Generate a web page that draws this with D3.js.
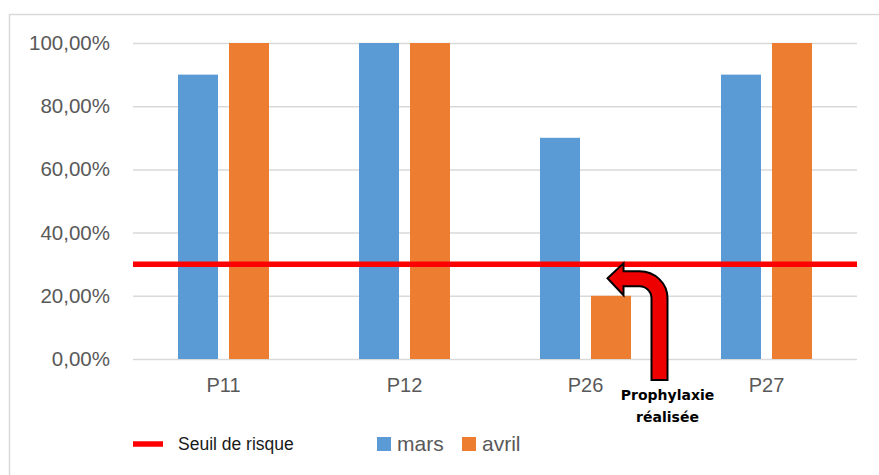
<!DOCTYPE html>
<html>
<head>
<meta charset="utf-8">
<script src="https://cdn.jsdelivr.net/npm/d3@7"></script>
<style>
  html, body { margin: 0; padding: 0; background: #fff; }
  svg { display: block; font-family: "Liberation Sans", Arial, sans-serif; }
</style>
</head>
<body>
<div id="chart"></div>
<script>
// données
var categories = ["P11", "P12", "P26", "P27"];
var seriesNames = ["mars", "avril"];
var mars = [0.90, 1.00, 0.70, 0.90];
var avril = [1.00, 1.00, 0.20, 1.00];
var yTicks = [0, 0.2, 0.4, 0.6, 0.8, 1.0];
var seuil = 0.30;
var seuilLabel = "Seuil de risque";
var annotationLines = ["Prophylaxie", "réalisée"];

var colors = { mars: "#5b9bd5", avril: "#ed7d31" };

var width = 879, height = 475;
var margin = { left: 133, right: 22, top: 43, bottom: 116 };

var svg = d3.select("#chart").append("svg")
    .attr("width", width)
    .attr("height", height);

// cadre du graphique (bords droit/bas hors de l'image)
svg.append("rect")
    .attr("x", 9.5).attr("y", 14.5)
    .attr("width", 1000).attr("height", 1000)
    .attr("fill", "none")
    .attr("stroke", "#d9d9d9")
    .attr("stroke-width", 1.5);

var x = d3.scaleBand()
    .domain(categories)
    .range([margin.left, width - margin.right]);

var y = d3.scaleLinear()
    .domain([0, 1])
    .range([height - margin.bottom, margin.top]);

var barW = 40, gap = 11;
var xSub = d3.scaleBand()
    .domain(seriesNames)
    .range([0, 2 * barW + gap])
    .paddingInner(gap / (barW + gap));

var fmt = function (v) {
    return d3.format(".2f")(v * 100).replace(".", ",") + "%";
};

// axe Y : grille + libellés
var yAxis = d3.axisLeft(y)
    .tickValues(yTicks)
    .tickSize(-(width - margin.left - margin.right))
    .tickPadding(23)
    .tickFormat(fmt);

var gy = svg.append("g")
    .attr("transform", "translate(" + margin.left + ",0)")
    .call(yAxis);
gy.select(".domain").remove();
gy.selectAll(".tick line")
    .attr("stroke", "#d9d9d9")
    .attr("stroke-width", 1.5);
gy.selectAll(".tick text")
    .attr("fill", "#595959")
    .style("font-size", "20.5px");

// barres
var rows = categories.map(function (c, i) {
    return { cat: c, values: [{ s: "mars", v: mars[i] }, { s: "avril", v: avril[i] }] };
});

var groups = svg.append("g").selectAll("g")
    .data(rows)
    .join("g")
    .attr("transform", function (d) {
        return "translate(" + (x(d.cat) + (x.bandwidth() - (2 * barW + gap)) / 2) + ",0)";
    });

groups.selectAll("rect")
    .data(function (d) { return d.values; })
    .join("rect")
    .attr("x", function (d) { return xSub(d.s); })
    .attr("width", xSub.bandwidth())
    .attr("y", function (d) { return y(d.v); })
    .attr("height", function (d) { return y(0) - y(d.v); })
    .attr("fill", function (d) { return colors[d.s]; });

// axe X : libellés des catégories
var xAxis = d3.axisBottom(x).tickSize(0).tickPadding(19);
var gx = svg.append("g")
    .attr("transform", "translate(0," + y(0) + ")")
    .call(xAxis);
gx.select(".domain").remove();
gx.selectAll(".tick text")
    .attr("fill", "#595959")
    .style("font-size", "20px");

// ligne de seuil
svg.append("line")
    .attr("x1", margin.left)
    .attr("x2", width - margin.right)
    .attr("y1", y(seuil))
    .attr("y2", y(seuil))
    .attr("stroke", "#ff0000")
    .attr("stroke-width", 5.5);

// flèche coudée (annotation) ancrée sur P26 / seuil
var ax = x("P26") + x.bandwidth() / 2;   // centre de la catégorie
var ay = y(seuil);
var tipX = ax + 22, tipY = ay + 14;
var stemL = ax + 66, stemR = ax + 82, stemB = y(0) + 21;
var shT = tipY - 7, shB = tipY + 8, headX = tipX + 16;
var rIn = stemL - (headX + 16), cx = headX + 16;
var arrow = [
    "M", stemL, stemB,
    "L", stemL, shB + rIn,
    "A", rIn, rIn, 0, 0, 0, cx, shB,
    "L", headX, shB,
    "L", headX, tipY + 17,
    "L", tipX, tipY,
    "L", headX, tipY - 15,
    "L", headX, shT,
    "L", cx, shT,
    "A", stemR - cx, shB + rIn - shT, 0, 0, 1, stemR, shB + rIn,
    "L", stemR, stemB,
    "Z"
].join(" ");
svg.append("path")
    .attr("d", arrow)
    .attr("fill", "#ee0000")
    .attr("stroke", "#000")
    .attr("stroke-width", 2)
    .attr("stroke-linejoin", "miter");

svg.append("g").selectAll("text")
    .data(annotationLines)
    .join("text")
    .attr("x", ax + 82)
    .attr("y", function (d, i) { return y(0) + 41 + i * 22; })
    .attr("text-anchor", "middle")
    .attr("fill", "#000")
    .style("font-family", "'DejaVu Sans', sans-serif")
    .style("font-size", "14px")
    .style("font-weight", "bold")
    .text(function (d) { return d; });

// légende
var ly = 444;
svg.append("line")
    .attr("x1", 133).attr("x2", 163)
    .attr("y1", ly).attr("y2", ly)
    .attr("stroke", "#ff0000")
    .attr("stroke-width", 5.5);
svg.append("text")
    .attr("x", 178).attr("y", ly + 6)
    .attr("fill", "#1a1a1a")
    .style("font-size", "17.5px")
    .text(seuilLabel);

var legendX = [377, 462];
var leg = svg.append("g").selectAll("g")
    .data(seriesNames)
    .join("g")
    .attr("transform", function (d, i) { return "translate(" + legendX[i] + "," + (ly - 7) + ")"; });
leg.append("rect")
    .attr("width", 14).attr("height", 14)
    .attr("fill", function (d) { return colors[d]; });
leg.append("text")
    .attr("x", 20).attr("y", 14)
    .attr("fill", "#595959")
    .style("font-size", "21px")
    .text(function (d) { return d; });
</script>
</body>
</html>
